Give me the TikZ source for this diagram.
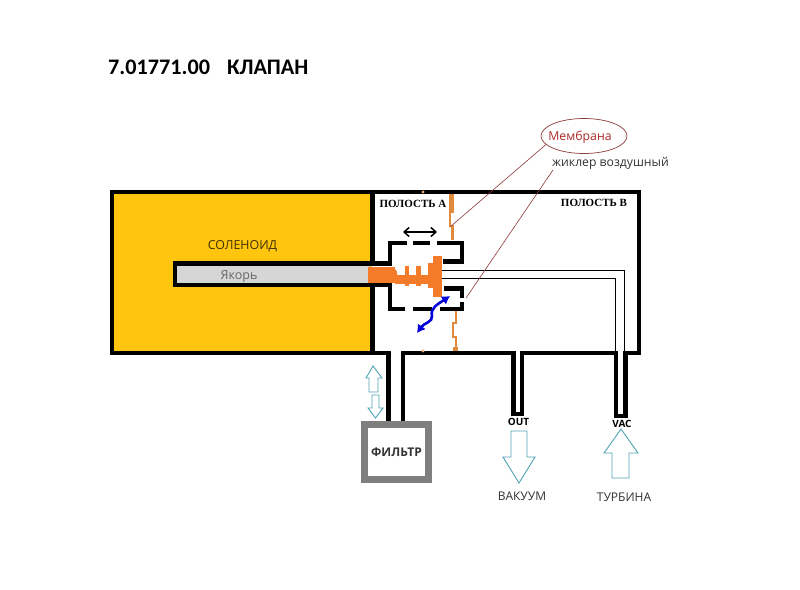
\documentclass[tikz,border=0pt]{standalone}
\usepackage{fontspec}
\setmainfont{Open Sans}
\newfontfamily\calfam{Carlito}
\newfontfamily\serfam{Liberation Serif}
\usetikzlibrary{arrows.meta,shapes.geometric}
\definecolor{solyellow}{HTML}{FFC50F}
\definecolor{plunger}{HTML}{F47B2A}
\definecolor{membr}{HTML}{E08A3C}
\definecolor{core}{HTML}{D6D6D6}
\definecolor{flow}{HTML}{4FA3B5}
\definecolor{leader}{HTML}{8C3A3A}
\definecolor{filt}{HTML}{7F7F7F}
\definecolor{txt}{HTML}{333333}
\tikzset{
 wall/.style={line width=4.4pt,black,line cap=butt,line join=miter},
 flowarrow/.style={draw=flow,line width=.9pt,fill=white,line join=miter},
 mem/.style={draw=membr,line width=2.3pt,line join=miter},
 lead/.style={draw=leader,line width=.6pt},
 lab/.style={inner sep=0pt,text=txt,font=\fontsize{12pt}{14pt}\selectfont},
 cav/.style={inner sep=0pt,text=black,font=\serfam\bfseries\fontsize{11pt}{13pt}\selectfont},
 port/.style={inner sep=0pt,text=black,font=\bfseries\fontsize{10pt}{12pt}\selectfont},
 tube/.style={draw=black,line width=.8pt},
}
\begin{document}
\begin{tikzpicture}[x=1pt,y=-1pt]
\useasboundingbox (0,0) rectangle (800,589);
\fill[white] (0,0) rectangle (800,589);
% solenoid
\fill[solyellow] (112,192) rectangle (372,352);
\draw[wall] (110,192) -- (641,192);
\draw[wall] (639,190) -- (639,355);
\draw[wall] (641,353) -- (627,353);
\draw[wall] (614,353) -- (524,353);
\draw[wall] (511,353) -- (405,353);
\draw[wall] (386,353) -- (110,353);
\draw[wall] (112,190) -- (112,355);
\draw[wall] (372.5,190) -- (372.5,263);
\draw[wall] (372.5,285) -- (372.5,355);
% armature
\fill[core] (175,264) rectangle (370,285);
\draw[wall] (392,263.5) -- (175,263.5) -- (175,285) -- (392,285);
\fill[core] (177,266) rectangle (368,283);
\fill[plunger] (368,267) rectangle (395,283);
\fill[plunger] (395,269) -- (397,272) -- (397,280) -- (395,283) -- cycle;
% cup
\draw[wall] (390,263) -- (390,243) -- (407,243);
\draw[wall] (413,243) -- (430,243);
\draw[wall] (437,243) -- (462,243) -- (462,261.5) -- (443,261.5);
\draw[wall] (444,288.5) -- (462,288.5) -- (462,298);
\draw[wall] (462,302) -- (462,309) -- (440,309);
\draw[wall] (432,309) -- (413,309);
\draw[wall] (405,309) -- (390,309) -- (390,287);
% plunger
\fill[plunger] (395,275) rectangle (434,284);
\fill[plunger] (404.5,266) rectangle (408.5,286);
\fill[plunger] (416,266) rectangle (421,286);
\fill[plunger] (428,263) rectangle (434,288);
\fill[plunger] (433,256) rectangle (442,297);
% pipe lines inside
\draw[tube] (442,270.5) -- (624,270.5) -- (624,352);
\draw[tube] (442,278) -- (615,278) -- (615,352);
% membranes
\fill[membr] (449,194) rectangle (453.5,213);
\draw[mem] (450,212) -- (450,226) -- (452.5,226) -- (452.5,240);
\draw[mem] (456,311) -- (456,323) -- (453,323) -- (453,337) -- (456,337) -- (456,350);
\fill[membr] (453,347) rectangle (458,351);
\fill[membr!70!white] (423,192) circle (1.6);
\fill[membr!70!white] (423,351) circle (1.6);
% stems
\draw[wall] (388.5,351) -- (388.5,422);
\draw[wall] (403,351) -- (403,422);
\draw[wall] (513.5,351) -- (513.5,414) -- (522,414) -- (522,351);
\draw[wall] (616,351) -- (616,416) -- (625.5,416) -- (625.5,351);
% filter
\node[draw=filt,line width=7pt,minimum width=64pt,minimum height=55pt,inner sep=0pt,fill=white,
  text=txt,font=\bfseries\fontsize{12pt}{14pt}\selectfont] (filter) at (396.5,452) {ФИЛЬТР};
% flow arrows
\draw[flowarrow] (373,366) -- (382,378) -- (378,378) -- (378,392) -- (369,392) -- (369,378) -- (366,378) -- cycle;
\draw[flowarrow] (372,395) -- (379,395) -- (379,408) -- (383,408) -- (375.5,418) -- (368,408) -- (372,408) -- cycle;
\draw[flowarrow] (511,431) -- (527,431) -- (527,457) -- (535,457) -- (519,483) -- (503,457) -- (511,457) -- cycle;
\draw[flowarrow] (621,429) -- (638,453) -- (629,453) -- (629,478) -- (612,478) -- (612,453) -- (604,453) -- cycle;
% motion arrows
\coordinate (mvL) at (403,232);
\coordinate (mvR) at (437,232);
\draw[black,line width=1.5pt,{Straight Barb[length=5pt,width=9pt]}-{Straight Barb[length=5pt,width=9pt]}] (mvL) -- (mvR);
\coordinate (blA) at (450,296);
\coordinate (blB) at (417,333);
\draw[blue!85!black,line width=2.6pt,{Latex[length=8pt,width=10pt]}-{Latex[length=8pt,width=10pt]}] (blA) .. controls (438,304) and (430,308) .. (432,316) .. controls (433,322) and (424,323) .. (blB);
% texts
\node[anchor=west,inner sep=0pt,text=black,font=\calfam\bfseries\fontsize{22.2pt}{26pt}\selectfont] (title) at (108,67) {7.01771.00\hspace{17pt}КЛАПАН};
\node[cav] (cavA) at (413,204) {ПОЛОСТЬ А};
\node[cav] (cavB) at (594,203) {ПОЛОСТЬ В};
\node[lab,text=black!75!solyellow,font=\fontsize{12.4pt}{14pt}\selectfont] (sol) at (242.5,246) {СОЛЕНОИД};
\node[lab,text=black!60,font=\fontsize{12.5pt}{14pt}\selectfont] (yak) at (239,277) {Якорь};
\node[port] (out) at (518.5,422) {OUT};
\node[port] (vac) at (622,424) {VAC};
\node[lab] (vak) at (522,496) {ВАКУУМ};
\node[lab] (tur) at (624,497) {ТУРБИНА};
\node[draw=leader,line width=.7pt,ellipse,minimum width=86pt,minimum height=35pt,inner sep=0pt,text=leader!70!red,font=\fontsize{12.3pt}{14pt}\selectfont,text depth=0pt] (memb) at (584,136) {\hspace{-8pt}Мембрана};
\node[anchor=west,inner sep=0pt,text=txt,font=\fontsize{12.2pt}{14pt}\selectfont] (jik) at (552,163) {жиклер воздушный};
\coordinate (mpt) at (450,227);
\coordinate (jpt) at (466,298);
\coordinate (jst) at (553,170);
\draw[lead] (memb) ++(-38,8.5) -- (mpt);
\draw[lead] (jst) -- (jpt);
\end{tikzpicture}
\end{document}
